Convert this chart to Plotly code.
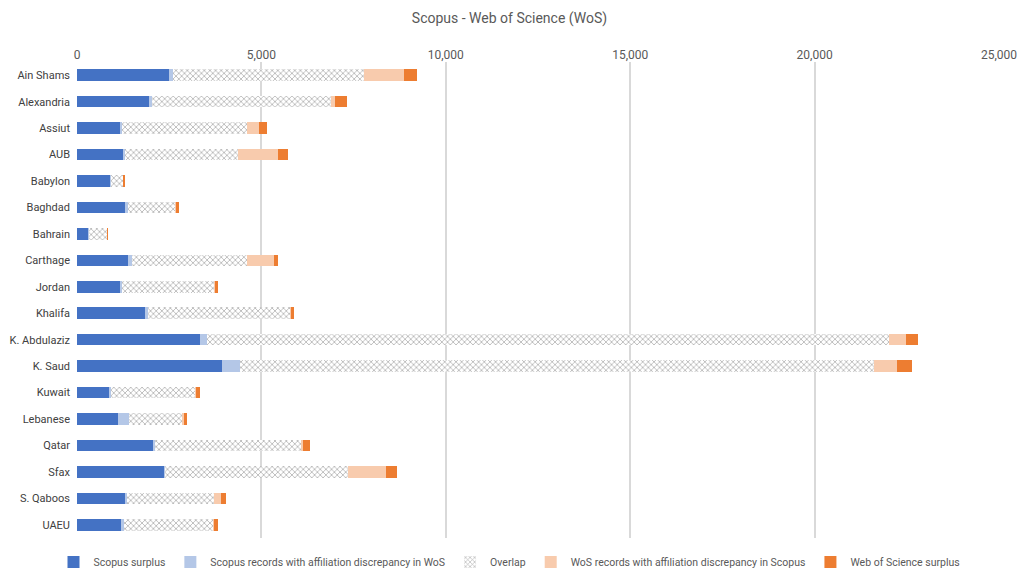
import plotly.graph_objects as go

universities = ["Ain Shams", "Alexandria", "Assiut", "AUB", "Babylon", "Baghdad", "Bahrain",
                "Carthage", "Jordan", "Khalifa", "K. Abdulaziz", "K. Saud", "Kuwait", "Lebanese",
                "Qatar", "Sfax", "S. Qaboos", "UAEU"]

scopus_surplus = [2503, 1944, 1175, 1266, 895, 1302, 307, 1392, 1184, 1853, 3335, 3932, 876, 1112, 2061, 2359, 1310, 1184]
scopus_discrepancy = [92, 90, 45, 27, 27, 72, 27, 91, 45, 81, 199, 480, 38, 289, 46, 18, 55, 90]
overlap = [5195, 4854, 3380, 3063, 344, 1310, 488, 3117, 2504, 3851, 18492, 17190, 2294, 1473, 3990, 4963, 2350, 2422]
wos_discrepancy = [1077, 108, 343, 1094, 5, 10, 3, 742, 18, 27, 452, 640, 27, 27, 27, 1039, 190, 19]
wos_surplus = [361, 317, 209, 264, 22, 63, 15, 108, 63, 63, 317, 391, 109, 73, 181, 289, 135, 108]

series = [
    ("Scopus surplus", scopus_surplus, "#4472C4", None),
    ("Scopus records with affiliation discrepancy in WoS", scopus_discrepancy, "#B4C7E7", None),
    ("Overlap", overlap, "#FFFFFF", "x"),
    ("WoS records with affiliation discrepancy in Scopus", wos_discrepancy, "#F8CBAD", None),
    ("Web of Science surplus", wos_surplus, "#ED7D31", None),
]

fig = go.Figure()
for name, vals, color, pat in series:
    marker = dict(color=color, line=dict(width=0))
    if pat:
        marker["pattern"] = dict(shape=pat, fgcolor="#5F5F5F", bgcolor="#FFFFFF", size=4, solidity=0.35)
    fig.add_trace(go.Bar(
        name=name, y=universities, x=vals, orientation="h", marker=marker,
    ))

W, H = 1019, 569
font_family = "Roboto, 'Open Sans', sans-serif"
fig.update_layout(
    barmode="stack",
    bargap=0.56,
    width=W, height=H,
    margin=dict(l=77, r=20, t=62, b=31),
    paper_bgcolor="white", plot_bgcolor="white",
    font=dict(family=font_family, size=11, color="#595959"),
    title=dict(text="Scopus - Web of Science (WoS)", x=0.5, xanchor="center", y=1 - 18 / H, yanchor="middle",
               font=dict(size=14, color="#595959")),
    xaxis=dict(side="top", range=[0, 25000], tickvals=[0, 5000, 10000, 15000, 20000, 25000],
               tickformat=",d", showgrid=True, gridcolor="#D9D9D9", gridwidth=1.5, automargin=False,
               zeroline=False, showline=False, ticks="", tickfont=dict(size=12, color="#595959")),
    yaxis=dict(autorange="reversed", showgrid=False, showline=False, ticks="", automargin=False,
               tickfont=dict(size=11, color="#404040"), ticklabelstandoff=6),
    legend=dict(orientation="h", x=0.5, xanchor="center", xref="container",
                y=1 - 562 / H, yanchor="middle", yref="container",
                font=dict(size=10.5, color="#595959"), itemwidth=30, traceorder="normal"),
)

fig.write_html("out.html", config={"displayModeBar": False},
               post_script="document.body.style.margin='0';document.body.style.overflow='hidden';")
